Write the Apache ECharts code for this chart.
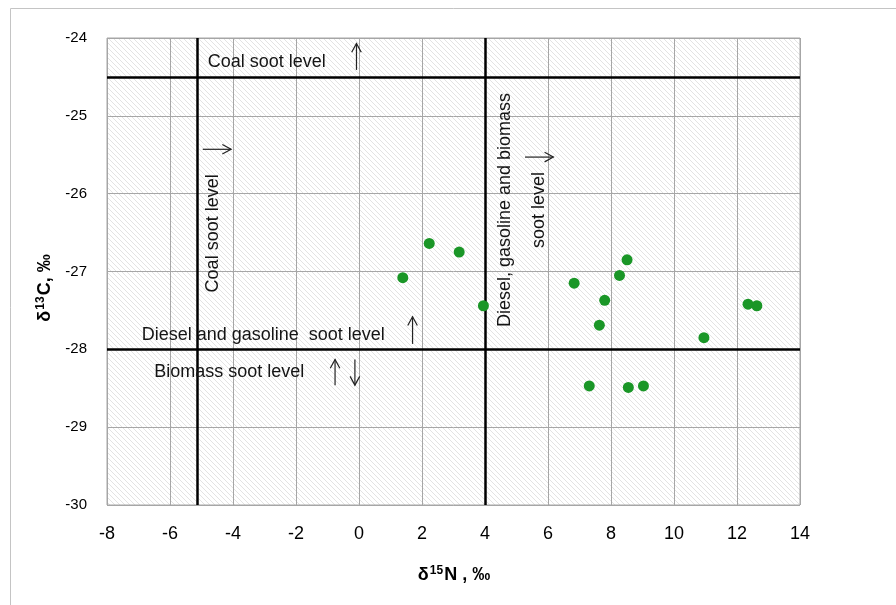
<!DOCTYPE html>
<html>
<head>
<meta charset="utf-8">
<script src="https://cdn.jsdelivr.net/npm/echarts@6/dist/echarts.min.js"></script>
<style>html,body{margin:0;padding:0;background:#fff}#c{width:896px;height:605px}</style>
</head>
<body>
<div id="c"></div>
<script>
// ---- data ----
var xTicks = [-8, -6, -4, -2, 0, 2, 4, 6, 8, 10, 12, 14];
var yTicks = [-30, -29, -28, -27, -26, -25, -24];
var d15N = [2.23, 3.18, 1.39, 3.95, 6.83, 8.51, 8.27, 7.80, 7.63, 10.95, 12.35, 12.63, 7.31, 8.55, 9.03];
var d13C = [-26.64, -26.75, -27.08, -27.44, -27.15, -26.85, -27.05, -27.37, -27.69, -27.85, -27.42, -27.44, -28.47, -28.49, -28.47];
var levelX = [-5.12, 4];        // vertical soot level lines (δ15N)
var levelY = [-24.5, -28];      // horizontal soot level lines (δ13C)
var noteText = ['Coal soot level', 'Diesel and gasoline  soot level', 'Biomass soot level', 'Coal soot level', 'Diesel, gasoline and biomass', 'soot level'];
var noteX = [-4.8, -6.9, -6.5, -4.63, 4.63, 5.72];
var noteY = [-24.31, -27.81, -28.29, -26.51, -26.21, -26.21];
var noteVertical = [false, false, false, true, true, true];
var arrowFromX = [-0.08, -4.96, 5.27, 1.70, -0.76, -0.13];
var arrowFromY = [-24.41, -25.43, -25.53, -27.93, -28.46, -28.13];
var arrowToX = [-0.08, -4.06, 6.17, 1.70, -0.76, -0.13];
var arrowToY = [-24.07, -25.43, -25.53, -27.58, -28.13, -28.46];

var points = d15N.map(function (x, i) { return [x, d13C[i]]; });

// hatched pattern
var tile = document.createElement('canvas');
var s = 5;
tile.width = s; tile.height = s;
var tc = tile.getContext('2d');
tc.fillStyle = '#ffffff'; tc.fillRect(0, 0, s, s);
tc.strokeStyle = '#dcdcdc'; tc.lineWidth = 0.8;
[-s, 0, s].forEach(function (o) { tc.beginPath(); tc.moveTo(o, 0); tc.lineTo(o + s, s); tc.stroke(); });

var chart = echarts.init(document.getElementById('c'));
var FONT = '"Liberation Sans", Arial, sans-serif';
var option = {
  animation: false,
  grid: { left: 107, right: 96, top: 38, bottom: 100, show: true,
          backgroundColor: { image: tile, repeat: 'repeat' },
          borderColor: '#a6a6a6', borderWidth: 1 },
  xAxis: {
    type: 'value', min: xTicks[0], max: xTicks[xTicks.length - 1], interval: 2,
    axisLine: { show: false }, axisTick: { show: false },
    splitLine: { show: true, lineStyle: { color: '#a6a6a6', width: 1 } },
    axisLabel: { margin: 20, fontFamily: FONT, fontSize: 18, color: '#000' }
  },
  yAxis: {
    type: 'value', min: yTicks[0], max: yTicks[yTicks.length - 1], interval: 1,
    axisLine: { show: false }, axisTick: { show: false },
    splitLine: { show: true, lineStyle: { color: '#a6a6a6', width: 1 } },
    axisLabel: { margin: 20, fontFamily: FONT, fontSize: 15, color: '#000' }
  },
  series: [{
    type: 'scatter', data: points, symbolSize: 11,
    itemStyle: { color: '#1a9627', opacity: 1 }, z: 5,
    markLine: {
      silent: true, symbol: ['none', 'none'], label: { show: false },
      lineStyle: { color: '#000', width: 2.5, type: 'solid' },
      data: levelX.map(function (v) { return { xAxis: v }; })
        .concat(levelY.map(function (v) { return { yAxis: v }; }))
    }
  }]
};
chart.setOption(option);

function px(x, y) { return chart.convertToPixel({ gridIndex: 0 }, [x, y]); }
var g = [];
g.push({ type: 'rect', shape: { x: 10.5, y: 8.5, width: 900, height: 620 },
         style: { fill: 'none', stroke: '#c4c4c4', lineWidth: 1 }, z: 0, silent: true });
noteText.forEach(function (t, i) {
  var p = px(noteX[i], noteY[i]);
  g.push({ type: 'text', x: p[0], y: p[1], rotation: noteVertical[i] ? Math.PI / 2 : 0, z: 10,
    style: { text: t, fill: '#141414', font: '18px ' + FONT,
             align: noteVertical[i] ? 'center' : 'left', verticalAlign: 'middle' } });
});
arrowFromX.forEach(function (x, i) {
  var a = px(x, arrowFromY[i]), b = px(arrowToX[i], arrowToY[i]);
  var ang = Math.atan2(b[1] - a[1], b[0] - a[0]);
  var hl = 10, hw = 0.5;
  var h1 = [b[0] - hl * Math.cos(ang - hw), b[1] - hl * Math.sin(ang - hw)];
  var h2 = [b[0] - hl * Math.cos(ang + hw), b[1] - hl * Math.sin(ang + hw)];
  g.push({ type: 'polyline', z: 10, shape: { points: [a, b] }, style: { stroke: '#222', lineWidth: 1.2, fill: 'none' } });
  g.push({ type: 'polyline', z: 10, shape: { points: [h1, b, h2] }, style: { stroke: '#222', lineWidth: 1.2, fill: 'none' } });
});
g.push({ type: 'text', x: 454, y: 575, z: 10,
  style: { text: '{a|δ}{s|15}{a|N , ‰}', align: 'center', verticalAlign: 'middle',
    rich: { a: { fontFamily: FONT, fontSize: 18, fontWeight: 'bold', fill: '#000' },
            s: { fontFamily: FONT, fontSize: 12, fontWeight: 'bold', fill: '#000', padding: [0, 1, 9, 1] } } } });
g.push({ type: 'text', x: 45, y: 288, rotation: Math.PI / 2, z: 10,
  style: { text: '{a|δ}{s|13}{a|C, ‰}', align: 'center', verticalAlign: 'middle',
    rich: { a: { fontFamily: FONT, fontSize: 18, fontWeight: 'bold', fill: '#000' },
            s: { fontFamily: FONT, fontSize: 12, fontWeight: 'bold', fill: '#000', padding: [0, 1, 9, 1] } } } });
chart.setOption({ graphic: g });
</script>
</body>
</html>
